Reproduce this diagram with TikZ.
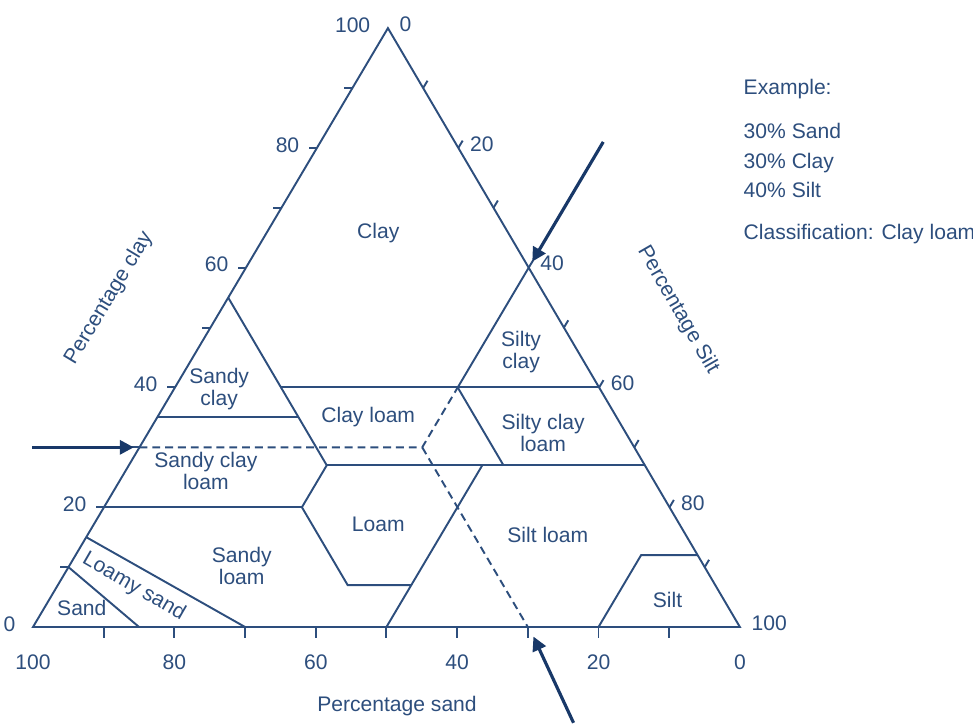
\documentclass[tikz,border=0pt]{standalone}
\usepackage{fontspec}
\setmainfont{Liberation Sans}
\usepackage{xcolor}
\definecolor{soilline}{RGB}{45,78,125}
\definecolor{soilarrow}{RGB}{24,56,104}
\usetikzlibrary{arrows.meta}

\begin{document}
\begin{tikzpicture}[x=0.02cm,y=0.02cm,line width=1.1pt,color=soilline,
    every node/.style={font=\fontsize{12}{12.5}\selectfont,text=soilline,inner sep=1pt},
    zone/.style={align=center},
    guide/.style={dash pattern=on 4.5pt off 2.8pt},
    pointer/.style={soilarrow,line width=1.8pt,-{Triangle[length=8pt,width=8pt]}}]
  \useasboundingbox (-33,-97) rectangle (940,627);

  % x = percent silt, y = percent clay, sand is the rest
  \begin{scope}[x={(0.1414cm,0cm)},y={(0.0710cm,0.1198cm)}]
    \coordinate (S) at (0,0);
    \coordinate (T) at (100,0);
    \coordinate (C) at (0,100);
    \draw (S) -- (T) -- (C) -- cycle;

    % ticks and scale numbers
    \foreach \v in {10,20,...,90} {
      \draw (0,\v) -- ++(-0.16cm,0);
      \draw (\v,0) -- ++(0,-0.22cm);
      \draw (\v,100-\v) -- ++(59:0.17cm);
    }
    \foreach \v in {0,20,...,100} {
      \node[anchor=east,xshift=-0.3cm,yshift=0.06cm] at (0,\v) {\v};
      \node[anchor=west,xshift=0.18cm,yshift=0.08cm] at (\v,100-\v) {\v};
      \node[anchor=north,yshift=-0.5cm] at (100-\v,0) {\v};
    }

    % class boundaries
    \draw (0,55) -- (28,27) -- (28,20) -- (41,7) -- (50,7);
    \draw (15,40) -- (60,40);
    \draw (40,60) -- (40,40) -- (53,27);
    \draw (0,35) -- (20,35);
    \draw (28,27) -- (73,27);
    \draw (0,20) -- (28,20);
    \draw (50,27) -- (50,0);
    \draw (88,12) -- (80,12) -- (80,0);
    \draw (0,15) -- (30,0);
    \draw (0,10) -- (15,0);

    \node[zone] at (15.8,65.8) {Clay};
    \node[zone] at (6.4,39.7) {Sandy\\clay};
    \node[zone] at (29.8,35.1) {Clay loam};
    \node[zone] at (46,45.9) {Silty\\clay};
    \node[zone] at (55.9,32.4) {Silty clay\\loam};
    \node[zone] at (11.4,26) {Sandy clay\\loam};
    \node[zone] at (40.2,17.2) {Loam};
    \node[zone] at (24.4,10.2) {Sandy\\loam};
    \node[zone] at (65.1,15.4) {Silt loam};
    \node[zone] at (87.5,4.5) {Silt};
    \node[zone] at (5.3,3.2) {Sand};
    \node[zone,rotate=-30] at (10.9,6.7) {Loamy sand};

    % worked example: 30 sand, 30 clay, 40 silt
    \coordinate (ex) at (40,30);
    \draw[guide] (0,30) -- (ex) -- (40,40);
    \draw[guide] (ex) -- (70,0);

    \coordinate (claytail) at (-15.2,30);
    \coordinate (clayhit) at (-0.8,30);
    \coordinate (silttail) at (40,81);
    \coordinate (silthit) at (40,61);
    \coordinate (sandtail) at (84.5,-16);
    \coordinate (sandhit) at (71.6,-1.6);
  \end{scope}

  \draw[pointer] (claytail) -- (clayhit);
  \draw[pointer] (silttail) -- (silthit);
  \draw[pointer] (sandtail) -- (sandhit);

  \node[rotate=59] at (76,329) {Percentage clay};
  \node[rotate=-60] at (645,317) {Percentage Silt};
  \node at (364,-79) {Percentage sand};

  \node[anchor=base west] at (708,532) {Example:};
  \node[anchor=base west] at (708,488) {30\% Sand};
  \node[anchor=base west] at (708,458.5) {30\% Clay};
  \node[anchor=base west] at (708,429.5) {40\% Silt};
  \node[anchor=base west] at (708,387) {Classification: Clay loam};
\end{tikzpicture}
\end{document}
